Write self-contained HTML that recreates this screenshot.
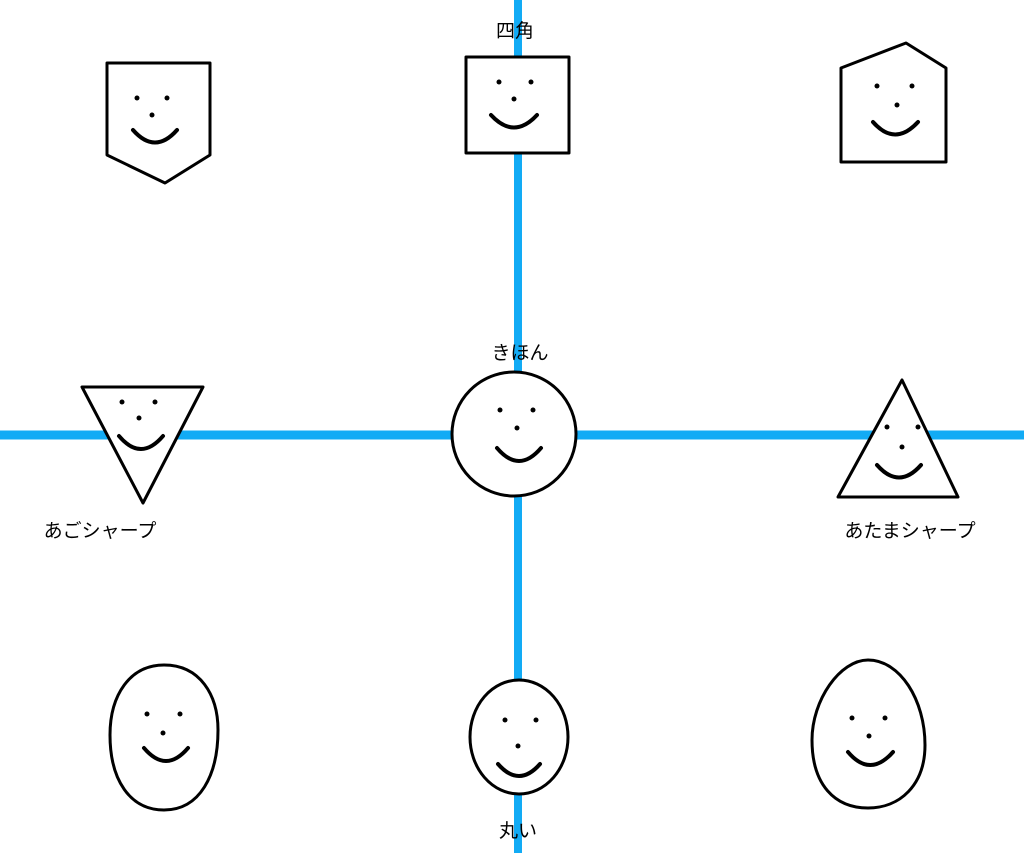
<!DOCTYPE html>
<html><head><meta charset="utf-8"><style>
html,body{margin:0;padding:0;background:#fff;}
svg{display:block}
text{font-family:"Liberation Sans","Noto Sans CJK JP",sans-serif;font-size:19px;fill:#000}
</style></head><body>
<svg width="1024" height="853" viewBox="0 0 1024 853" xmlns="http://www.w3.org/2000/svg">
<g fill="none" stroke="#000" stroke-width="3" stroke-linejoin="round" stroke-linecap="round">
</g>
<line x1="518" y1="0" x2="518" y2="853" stroke="#12abf5" stroke-width="8"/>
<line x1="0" y1="435" x2="1024" y2="435" stroke="#12abf5" stroke-width="9"/>
<g fill="#fff" stroke="#000" stroke-width="3" stroke-linejoin="round" stroke-linecap="round">
<path d="M107,63 L210,63 L210,155 L165,183 L107,155 Z"/>
<path d="M466,57 L569,57 L569,153 L466,153 Z"/>
<path d="M841,68 L906,43 L946,68 L946,162 L841,162 Z"/>
<path d="M82,387 L203,387 L143,503 Z"/>
<circle cx="514" cy="434" r="62"/>
<path d="M902,380 L958,497 L838,497 Z"/>
<path d="M164,665 C200,665 218,695 218,730 C218,775 200,810 164,810 C130,810 110,780 110,735 C110,695 130,665 164,665 Z"/>
<ellipse cx="519" cy="737" rx="49" ry="57"/>
<path d="M868,660 C900,660 925,700 925,745 C925,785 900,808 868,808 C835,808 812,785 812,740 C812,700 840,660 868,660 Z"/>
</g>
<g fill="#000">
<circle cx="137" cy="98" r="2.5"/><circle cx="167" cy="98" r="2.5"/><circle cx="152" cy="115" r="2.5"/>
<circle cx="499" cy="82" r="2.5"/><circle cx="531" cy="82" r="2.5"/><circle cx="514" cy="99" r="2.5"/>
<circle cx="877" cy="86" r="2.5"/><circle cx="912" cy="86" r="2.5"/><circle cx="897" cy="105" r="2.5"/>
<circle cx="122" cy="402" r="2.5"/><circle cx="155" cy="402" r="2.5"/><circle cx="139" cy="418" r="2.5"/>
<circle cx="500" cy="410" r="2.5"/><circle cx="533" cy="410" r="2.5"/><circle cx="517" cy="428" r="2.5"/>
<circle cx="887" cy="427" r="2.5"/><circle cx="918" cy="427" r="2.5"/><circle cx="902" cy="447" r="2.5"/>
<circle cx="147" cy="714" r="2.5"/><circle cx="180" cy="714" r="2.5"/><circle cx="163" cy="733" r="2.5"/>
<circle cx="505" cy="720" r="2.5"/><circle cx="536" cy="720" r="2.5"/><circle cx="518" cy="746" r="2.5"/>
<circle cx="852" cy="718" r="2.5"/><circle cx="885" cy="718" r="2.5"/><circle cx="869" cy="736" r="2.5"/>
</g>
<g fill="none" stroke="#000" stroke-width="4" stroke-linecap="round">
<path d="M133,130 Q155,155 177,130"/>
<path d="M491,115 Q514,140 537,115"/>
<path d="M873,122 Q895,147 918,122"/>
<path d="M119,436 Q141,462 163,436"/>
<path d="M497,448 Q519,474 541,448"/>
<path d="M877,465 Q899,490 921,465"/>
<path d="M144,748 Q166,774 188,748"/>
<path d="M498,764 Q519,788 540,764"/>
<path d="M848,752 Q870,778 893,752"/>
</g>
<text x="515" y="37" text-anchor="middle">四角</text>
<text x="520" y="359" text-anchor="middle" font-size="17">きほん</text>
<text x="100" y="537" text-anchor="middle" font-size="18">あごシャープ</text>
<text x="910" y="537" text-anchor="middle" font-size="18">あたまシャープ</text>
<text x="518" y="837" text-anchor="middle" font-size="18">丸い</text>
</svg>
</body></html>
